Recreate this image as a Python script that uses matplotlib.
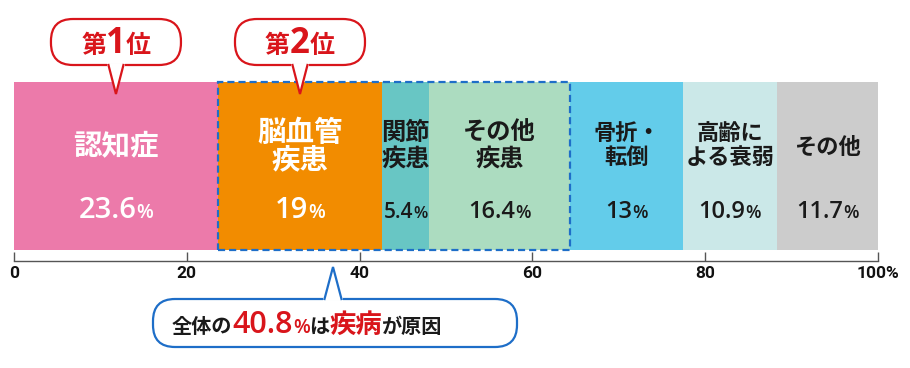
import matplotlib
matplotlib.use("Agg")
import matplotlib.pyplot as plt
from matplotlib.patches import Rectangle, FancyBboxPatch, Polygon
from matplotlib.lines import Line2D

# ---------------- data ----------------
categories = ['認知症', '脳血管疾患', '関節疾患', 'その他疾患', '骨折・転倒', '高齢による衰弱', 'その他']
label_lines = [['認知症'], ['脳血管', '疾患'], ['関節', '疾患'], ['その他', '疾患'],
               ['骨折・', '転倒'], ['高齢に', 'よる衰弱'], ['その他']]
values = [23.6, 19, 5.4, 16.4, 13, 10.9, 11.7]
value_labels = ['23.6', '19', '5.4', '16.4', '13', '10.9', '11.7']
disease_idx = [1, 2, 3]          # categories counted as 疾病
rank_idx = [0, 1]                # 第1位, 第2位
rank_numbers = ['1', '2']
tick_values = [0, 20, 40, 60, 80, 100]
tick_labels = ['0', '20', '40', '60', '80', '100%']

# ---------------- style ----------------
colors = ['#EC7AAA', '#F28C00', '#68C6C4', '#ACDCC0', '#63CCEA', '#CBE8E8', '#CCCCCC']
text_colors = ['white', 'white', '#1a1a1a', '#1a1a1a', '#1a1a1a', '#1a1a1a', '#1a1a1a']
label_sizes = [20.5, 20.5, 17.5, 17.5, 16, 16, 16]
value_sizes = [21, 21, 15, 17, 17, 17, 17]
pct_sizes = [14, 14, 12, 13, 13, 13, 13]
RED = '#D9151B'
BLUE = '#1E6EC8'
CJK = ['Noto Sans CJK JP', 'DejaVu Sans']
NUM = ['Open Sans', 'Noto Sans', 'DejaVu Sans']
NUM_W = 600
TICKFAM = ['Roboto', 'DejaVu Sans']

W, H = 910, 368
fig = plt.figure(figsize=(W / 100, H / 100), dpi=100)
fig.patch.set_facecolor('white')

AX_L, AX_R, AX_BOT = 14, 878, 261   # pixel positions
ax = fig.add_axes([AX_L / W, (H - AX_BOT) / H, (AX_R - AX_L) / W, AX_BOT / H])
ax.set_xlim(0, 100)
ax.set_ylim(0, AX_BOT)
bar_top, bar_bot = 82, 250
bar_center = AX_BOT - (bar_top + bar_bot) / 2
bar_h = bar_bot - bar_top

lefts = []
acc = 0
for v in values:
    lefts.append(acc)
    acc += v
ax.barh([bar_center] * len(values), values, left=lefts, height=bar_h,
        color=colors, edgecolor='none', zorder=2)

# dashed box around diseases
d_left = lefts[disease_idx[0]]
d_width = sum(values[i] for i in disease_idx)
ax.add_patch(Rectangle((d_left, bar_center - bar_h / 2), d_width, bar_h, fill=False,
                       edgecolor=BLUE, lw=1.6, linestyle=(0, (3.2, 1.8)), zorder=4))

for s in ['top', 'left', 'right']:
    ax.spines[s].set_visible(False)
ax.spines['bottom'].set_color('#555555')
ax.spines['bottom'].set_linewidth(1.0)
ax.set_yticks([])
ax.set_xticks(tick_values)
ax.set_xticklabels(tick_labels, fontsize=12.5, color='#111111', family=TICKFAM,
                   fontweight='bold')
ax.tick_params(axis='x', direction='in', length=6.5, width=1.0, color='#555555', pad=3.5)
ax.patch.set_alpha(0)

# ---------------- overlay in pixel coordinates ----------------
ov = fig.add_axes([0, 0, 1, 1], zorder=5)
ov.set_xlim(0, W)
ov.set_ylim(H, 0)
ov.axis('off')


def px_x(v):
    return ax.transData.transform((v, 0))[0]


renderer = fig.canvas.get_renderer()


def rich(parts, x, base_y, align='center'):
    texts, widths = [], []
    for s, size, color, weight, fam in parts:
        t = ov.text(0, base_y, s, fontsize=size, color=color, fontweight=weight,
                    family=fam, va='baseline', ha='left', zorder=12)
        widths.append(t.get_window_extent(renderer=renderer).width)
        texts.append(t)
    total = sum(widths)
    cur = x - total / 2 if align == 'center' else x
    for t, w in zip(texts, widths):
        t.set_x(cur)
        cur += w


def bubble(cx, y0, w, h, tip_x, tip_y, color, r, base_half, lw=1.6):
    ov.add_patch(FancyBboxPatch((cx - w / 2, y0), w, h,
                                boxstyle=f"round,pad=0,rounding_size={r}",
                                fc='white', ec=color, lw=lw, zorder=8))
    by = y0 + h if tip_y > y0 + h else y0
    ov.add_patch(Polygon([(tip_x - base_half, by), (tip_x + base_half, by), (tip_x, tip_y)],
                         closed=True, fc='white', ec='none', zorder=9))
    ov.add_line(Line2D([tip_x - base_half + 0.8, tip_x + base_half - 0.8], [by, by],
                       color='white', lw=lw + 1.2, zorder=9.5))
    ov.add_line(Line2D([tip_x - base_half, tip_x, tip_x + base_half], [by, tip_y, by],
                       color=color, lw=lw, zorder=10, solid_joinstyle='miter'))


# segment labels
for i, v in enumerate(values):
    cx = px_x(lefts[i] + v / 2)
    lines = label_lines[i]
    if len(lines) == 1:
        ys = [147]
    else:
        gap = 27 if label_sizes[i] > 19 else (26 if label_sizes[i] > 17 else 24.5)
        ys = [133, 133 + gap]
    for ln, y in zip(lines, ys):
        ov.text(cx, y, ln, fontsize=label_sizes[i], color=text_colors[i], fontweight='bold',
                family=CJK, ha='center', va='center', zorder=12)
    rich([(value_labels[i], value_sizes[i], text_colors[i], NUM_W, NUM),
          ('%', pct_sizes[i], text_colors[i], NUM_W, NUM)], cx, 218)

# rank bubbles
for k, i in enumerate(rank_idx):
    cx = px_x(lefts[i] + values[i] / 2)
    bubble(cx, 19, 130, 46, cx, 94, RED, 22, 7.5)
    rich([('第', 18, RED, 'bold', CJK), (rank_numbers[k], 25, RED, 'bold', NUM),
          ('位', 18, RED, 'bold', CJK)], cx, 53)

# bottom summary bubble
total_disease = sum(values[i] for i in disease_idx)
bubble(335, 299, 364, 48, 333, 267, BLUE, 22, 8.5)
BLK = '#1a1a1a'
rich([('全体の', 14.5, BLK, 'bold', CJK),
      (f'{total_disease:.1f}', 22, RED, NUM_W, NUM),
      ('%', 14, RED, NUM_W, NUM),
      ('は', 14.5, BLK, 'bold', CJK),
      ('疾病', 19, RED, 'bold', CJK),
      ('が原因', 14.5, BLK, 'bold', CJK)], 172, 333, align='left')

fig.savefig('out.png', dpi=100, facecolor='white')
